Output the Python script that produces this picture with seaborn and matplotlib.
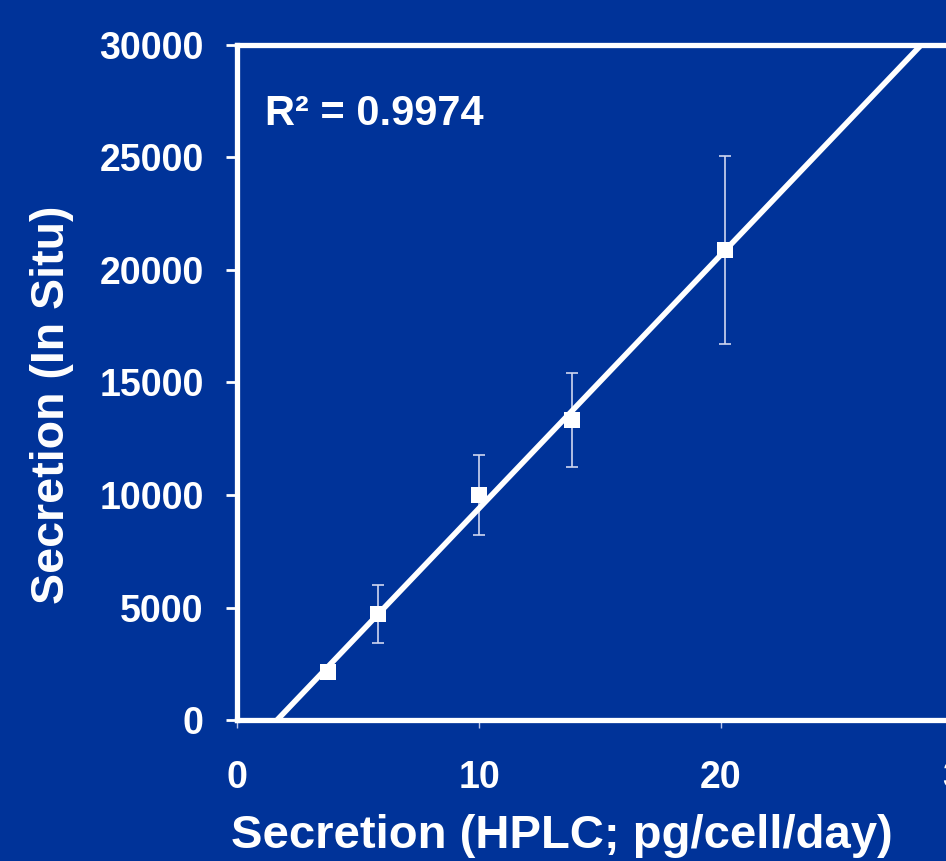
import numpy as np
import pandas as pd
import matplotlib
matplotlib.use("Agg")
import matplotlib.pyplot as plt
import seaborn as sns

# ---- data ----
hplc = [3.76, 5.83, 10.0, 13.84, 20.17]
in_situ = [2150, 4710, 10000, 13330, 20890]
in_situ_err = [250, 1270, 1780, 2070, 4180]
x_ticks = [0, 10, 20, 30]
y_ticks = [0, 5000, 10000, 15000, 20000, 25000, 30000]
r2_label = "R² = 0.9974"
x_label = "Secretion (HPLC; pg/cell/day)"
y_label = "Secretion (In Situ)"

df = pd.DataFrame({"hplc": hplc, "in_situ": in_situ, "err": in_situ_err})

BG = "#003399"
sns.set_style("ticks")
plt.rcParams["font.family"] = ["Liberation Sans", "DejaVu Sans"]
plt.rcParams["font.weight"] = "bold"

fig = plt.figure(figsize=(9.46, 8.61), dpi=100, facecolor=BG)
ax = fig.add_axes([237 / 946, 141 / 861, 726 / 946, 675 / 861])
ax.set_facecolor(BG)
ax.set_xlim(0, 30)
ax.set_ylim(0, 30000)

# trend line (linear fit through the points)
sns.regplot(data=df, x="hplc", y="in_situ", ax=ax, scatter=False, ci=None,
            truncate=False, color="white", line_kws={"lw": 4.0, "zorder": 3,
                                                     "solid_capstyle": "butt"})

# error bars
ax.errorbar(df["hplc"], df["in_situ"], yerr=df["err"], fmt="none",
            ecolor="#cfd6f0", elinewidth=1.2, capsize=4.3, capthick=1.2, zorder=2)
# markers
sns.scatterplot(data=df, x="hplc", y="in_situ", ax=ax, marker="s", s=125,
                color="white", edgecolor="white", linewidth=0, zorder=4)

ax.set_xticks(x_ticks)
ax.set_yticks(y_ticks)
ax.set_xticklabels([str(t) for t in x_ticks])
ax.set_yticklabels([str(t) for t in y_ticks])

for side in ["left", "bottom", "top", "right"]:
    ax.spines[side].set_visible(True)
    ax.spines[side].set_color("white")
    ax.spines[side].set_linewidth(3.8)

ax.tick_params(axis="y", direction="out", length=8, width=2, color="white",
               labelcolor="white", labelsize=27, pad=16)
ax.tick_params(axis="x", direction="out", length=6, width=1, color="#b8c2e8",
               labelcolor="white", labelsize=27, pad=23)
for lab in ax.get_xticklabels() + ax.get_yticklabels():
    lab.set_fontweight("bold")

ax.set_xlabel(x_label, fontsize=34, fontweight="bold", color="white")
ax.set_ylabel(y_label, fontsize=33.5, fontweight="bold", color="white")
ax.xaxis.label.set_va("baseline")
ax.xaxis.set_label_coords((562 - 237) / 726, (720 - 848) / 675)
ax.yaxis.label.set_va("center")
ax.yaxis.label.set_ha("center")
ax.yaxis.set_label_coords((52 - 237) / 726, (720 - 405) / 675)

ax.text(1.16, 26444, r2_label, fontsize=30, fontweight="bold", color="white",
        ha="left", va="baseline")

fig.savefig("out.png", dpi=100, facecolor=BG)
